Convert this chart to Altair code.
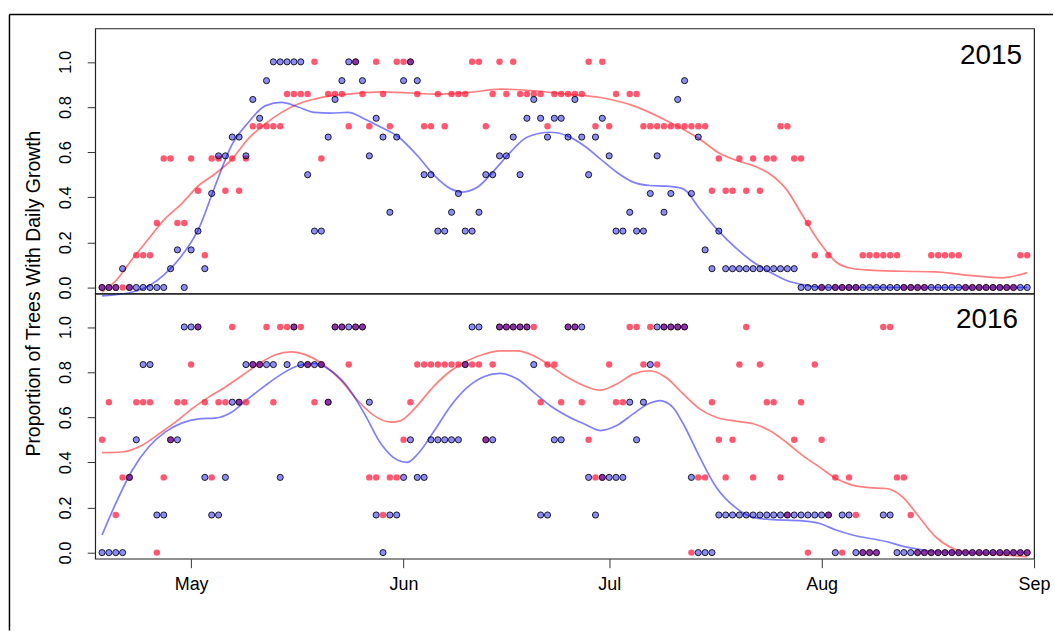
import altair as alt
import pandas as pd

FONT = "Liberation Sans"

# Days are counted from 1 May; the first observation is 18 April (day -13),
# the last one 31 August (day 122).
FIRST_DAY = -13
MONTH_TICKS = [0, 31, 61, 92, 123]
MONTH_NAMES = ["May", "Jun", "Jul", "Aug", "Sep"]

# Number of trees monitored in each group and year
N_TREES = {2015: {"red": 7, "blue": 12}, 2016: {"red": 6, "blue": 6}}

# Daily number of trees with growth, 18 Apr .. 31 Aug (None = no record)
red_2015 = [
    0, 0, 0, 0, 0, 1, 1, 1, 2, 4,
    4, 2, 2, 4, 3, 1, 4, 4, 3, 4,
    3, 4, 5, 5, 5, 5, 5, 6, 6, 6,
    6, 7, 4, 6, 6, 6, 5, 7, 6, 5,
    7, 6, 5, 7, 7, 7, 6, 5, 5, 6,
    5, 6, 6, 6, 7, 7, 5, 6, 7, 6,
    7, 6, 6, 6, 6, 5, 6, 6, 6, 6,
    6, 7, 5, 7, 5, 6, None, 6, 6, 5,
    5, 5, 5, 5, 5, 5, 5, 5, 5, 3,
    4, 3, 3, 4, 3, 4, 3, 4, 4, 5,
    5, 4, 4, 2, 1, 0, 1, 0, 0, 0,
    0, 1, 1, 1, 1, 1, 1, 0, 0, 0,
    0, 1, 1, 1, 1, 1, 0, 0, 0, 0,
    0, 0, 0, 0, 1, 1,
]
blue_2015 = [
    0, 0, 0, 1, 0, 0, 0, 0, 0, 0,
    1, 2, 0, 2, 3, 1, 5, 7, 7, 8,
    8, 7, 10, 9, 11, 12, 12, 12, 12, 12,
    6, 3, 3, 8, 10, 11, 12, 12, 11, 7,
    9, 8, 4, 8, 11, 12, 11, 6, 6, 3,
    3, 4, 5, 3, 3, 4, 6, 6, 7, 7,
    8, 6, 9, 10, 9, 8, 9, 9, 8, 10,
    8, 6, 8, 9, 7, 3, 3, 4, 3, 3,
    5, 7, 4, 5, 10, 11, 5, 8, 2, 1,
    3, 1, 1, 1, 1, 1, 1, 1, 1, 1,
    1, 1, 0, 0, 0, 0, 0, 0, 0, 0,
    0, 0, 0, 0, 0, 0, 0, 0, 0, 0,
    0, 0, 0, 0, 0, 0, 0, 0, 0, 0,
    0, 0, 0, 0, 0, 0,
]
red_2016 = [
    3, 4, 1, 2, 2, 4, 4, 4, 0, 2,
    3, 4, 4, 5, 6, 4, 2, 4, 4, 6,
    4, 4, 5, 5, 6, 4, 6, 6, 6, 6,
    5, 4, 5, 4, 6, 6, 5, 6, 6, 2,
    2, 1, 2, 2, 3, 4, 5, 5, 5, 5,
    5, 5, 5, 5, 5, 5, 3, 5, 6, 6,
    6, 6, 6, 6, 4, 5, 5, 4, 6, 6,
    4, 3, 2, 2, 5, 4, 4, 6, 6, 5,
    6, 5, 6, 6, 6, 6, 0, 2, 2, 4,
    3, 2, 3, 5, 6, 2, 5, 4, 4, 2,
    1, 3, 4, 0, 5, 3, 1, 2, 0, 2,
    1, 0, 0, 0, 6, 6, 2, 2, 1, 0,
    0, 0, 0, 0, 0, 0, 0, 0, 0, 0,
    0, 0, 0, 0, 0, 0,
]
blue_2016 = [
    0, 0, 0, 0, 2, 3, 5, 5, 1, 1,
    3, 3, 6, 6, 6, 2, 1, 1, 2, 4,
    4, 5, 5, 5, 5, 5, 2, 5, 6, 5,
    5, 5, 5, 4, 6, 6, 6, 6, 6, 4,
    1, 0, 1, 1, 2, 3, 2, 2, 3, 3,
    3, 3, 3, 5, 6, 6, 3, 3, 6, 6,
    6, 6, 6, 5, 1, 1, 3, 3, 6, 6,
    6, 2, 1, 2, 2, 2, 2, 4, 3, 4,
    5, 6, 6, 6, 6, 6, 2, 0, 0, 0,
    1, 1, 1, 1, 1, 1, 1, 1, 1, 1,
    1, 1, 1, 1, 1, 1, 1, 0, 1, 1,
    0, 0, 0, 0, 1, 1, 0, 0, 0, 0,
    0, 0, 0, 0, 0, 0, 0, 0, 0, 0,
    0, 0, 0, 0, 0, 0,
]

# Smoothed trends: (day, proportion) knots
red_trend_2015_day = [-13, -11, -8.6, -6.2, -3.8, -1.4, 1.1, 3.5, 5.9, 8.3,
                      10.8, 13.2, 15.6, 18, 20.4, 22.9, 27.7, 32.1, 35.5, 40.4,
                      45.2, 50, 54.8, 59.7, 64.5, 69.4, 74.2, 77.1, 79.6, 82,
                      84.4, 86.8, 89.2, 91.7, 94.1, 96.5, 98.9, 103.8, 108.6, 113.5,
                      118.3, 122]
red_trend_2015 = [-0.02, 0.03, 0.125, 0.216, 0.305, 0.371, 0.452, 0.504, 0.567, 0.658,
                  0.725, 0.776, 0.813, 0.835, 0.85, 0.857, 0.867, 0.862, 0.857, 0.864,
                  0.879, 0.872, 0.857, 0.842, 0.806, 0.739, 0.658, 0.595, 0.563, 0.54,
                  0.504, 0.437, 0.32, 0.2, 0.113, 0.084, 0.077, 0.072, 0.069, 0.054,
                  0.043, 0.066]
blue_trend_2015_day = [-13, -8.5, -6, -4, -1.4, 1.1, 3.5, 5.9, 8.3, 10.8,
                       13.2, 15.6, 18, 20.4, 22.9, 25.3, 27.7, 30.3, 33, 35.5,
                       37.9, 39.6, 41.8, 44.2, 46.6, 49, 52.4, 54.8, 57.3, 59.7,
                       62.1, 64.5, 66.9, 69.4, 71.8, 74.2, 76.8, 79.6, 82, 84.4,
                       86.8, 89.7, 92, 100, 110, 122]
blue_trend_2015 = [-0.037, -0.02, 0.01, 0.055, 0.14, 0.26, 0.45, 0.63, 0.73, 0.805,
                   0.82, 0.80, 0.776, 0.773, 0.776, 0.747, 0.71, 0.666, 0.585, 0.496,
                   0.437, 0.423, 0.445, 0.518, 0.6, 0.666, 0.688, 0.673, 0.629, 0.57,
                   0.511, 0.467, 0.452, 0.449, 0.437, 0.349, 0.255, 0.172, 0.113, 0.069,
                   0.032, 0.01, 0.0, 0.0, 0.0, 0.0]
red_trend_2016_day = [-13, -10.1, -7.2, -4.7, -2.3, 0.1, 2.5, 4.9, 7.4, 9.8,
                      12.2, 14.6, 17.1, 19.5, 21.9, 24.3, 26.7, 29.2, 30.6, 32.1,
                      33.1, 35.5, 37.9, 40.3, 42.7, 45.1, 47.6, 50, 52.4, 54.8,
                      57.3, 59.7, 62.1, 64.5, 66.9, 69.4, 71.8, 74.2, 76.6, 79.6,
                      82, 84.4, 86.8, 89.2, 91.7, 94.1, 96.5, 98.9, 101.4, 103.8,
                      106.2, 108.6, 111.1, 113.5, 118.3, 122]
red_trend_2016 = [0.443, 0.446, 0.475, 0.526, 0.578, 0.637, 0.688, 0.732, 0.784, 0.835,
                  0.876, 0.89, 0.872, 0.828, 0.762, 0.674, 0.607, 0.578, 0.585, 0.622,
                  0.655, 0.74, 0.806, 0.85, 0.879, 0.894, 0.894, 0.872, 0.828, 0.779,
                  0.74, 0.72, 0.747, 0.791, 0.806, 0.774, 0.703, 0.637, 0.6, 0.582,
                  0.571, 0.541, 0.49, 0.431, 0.379, 0.328, 0.299, 0.288, 0.284, 0.247,
                  0.159, 0.071, 0.019, 0.0, -0.01, -0.018]
blue_trend_2016_day = [-13, -11, -8.6, -6.2, -3.8, -1.4, 1.1, 3.5, 5.9, 8.3,
                       10.8, 13.2, 15.6, 18, 20.4, 22.9, 25.3, 27.7, 30.1, 31.5,
                       33.1, 35.5, 37.9, 40.3, 42.7, 45.1, 47.6, 50, 52.4, 54.8,
                       57.3, 59.7, 62.1, 64.5, 66.9, 68.4, 70.3, 71.8, 74.2, 76.6,
                       79.6, 82, 84.4, 89.2, 91.7, 94.1, 96.5, 101.4, 103.8, 106.2,
                       108.6, 112, 122]
blue_trend_2016 = [0.078, 0.218, 0.365, 0.468, 0.534, 0.574, 0.593, 0.596, 0.622, 0.681,
                   0.74, 0.791, 0.828, 0.838, 0.806, 0.732, 0.615, 0.482, 0.41, 0.40,
                   0.438, 0.541, 0.651, 0.732, 0.779, 0.794, 0.769, 0.71, 0.651, 0.607,
                   0.571, 0.541, 0.563, 0.615, 0.662, 0.674, 0.644, 0.571, 0.424, 0.291,
                   0.196, 0.156, 0.147, 0.141, 0.129, 0.1, 0.078, 0.049, 0.029, 0.015,
                   0.004, 0.0, 0.0]

Y_TITLE = "Proportion of Trees With Daily Growth"
PANEL_W, PANEL_H = 942, 266


def daily_frame(counts, n_trees):
    rows = [{"day": FIRST_DAY + i, "value": c / n_trees}
            for i, c in enumerate(counts) if c is not None]
    return pd.DataFrame(rows)


def trend_frame(days, values):
    return pd.DataFrame({"day": days, "value": values})


x_scale = alt.Scale(domain=[-14, 123], nice=False, zero=False)
y_scale = alt.Scale(domain=[-0.027, 1.148], nice=False, zero=False)

month_expr = "{}[indexof({}, datum.value)]".format(
    "[" + ",".join("'%s'" % m for m in MONTH_NAMES) + "]",
    "[" + ",".join(str(t) for t in MONTH_TICKS) + "]",
)
x_axis = alt.Axis(values=MONTH_TICKS, labelExpr=month_expr, title=None,
                  domain=False, grid=False, tickSize=9, tickColor="#333333",
                  labelFontSize=18, labelFont=FONT, labelColor="black",
                  labelPadding=8, labelFlush=False, labelOverlap=False)
y_axis = alt.Axis(values=[0, 0.2, 0.4, 0.6, 0.8, 1.0], format=".1f", title=None,
                  domain=False, grid=False, tickSize=8, tickColor="#333333",
                  labelAngle=270, labelAlign="center", labelBaseline="alphabetic",
                  labelPadding=17, labelFontSize=16.5, labelFont=FONT,
                  labelColor="black", labelFlush=False, labelOverlap=False)


def panel(year, red, blue, red_trend, blue_trend, show_x, label_x, label_y):
    x = alt.X("day:Q", scale=x_scale, axis=x_axis if show_x else None)
    y = alt.Y("value:Q", scale=y_scale, axis=y_axis)
    red_line = alt.Chart(red_trend).mark_line(
        color="#FF0000", opacity=0.5, strokeWidth=1.7, interpolate="monotone"
    ).encode(x=x, y=y)
    blue_line = alt.Chart(blue_trend).mark_line(
        color="#0000FF", opacity=0.5, strokeWidth=1.7, interpolate="monotone"
    ).encode(x=x, y=y)
    red_pts = alt.Chart(red).mark_circle(
        color="#FF2040", opacity=0.75, size=42
    ).encode(x=x, y=y)
    blue_pts = alt.Chart(blue).mark_point(
        shape="circle", filled=True, fill="#0000FF", fillOpacity=0.45,
        stroke="black", strokeWidth=1, strokeOpacity=0.85, opacity=1, size=38
    ).encode(x=x, y=y)
    year_label = alt.Chart(pd.DataFrame({"label": [str(year)]})).mark_text(
        align="right", baseline="alphabetic", fontSize=28, font=FONT, color="black"
    ).encode(x=alt.value(label_x), y=alt.value(label_y), text="label:N")
    return [red_line, blue_line, red_pts, blue_pts, year_label]


one_row = pd.DataFrame({"k": [0]})
frame_top = alt.Chart(one_row).mark_rule(color="black", strokeWidth=1.5).encode(
    x=alt.value(-86), x2=alt.value(961), y=alt.value(-14))
frame_left = alt.Chart(one_row).mark_rule(color="black", strokeWidth=1.5).encode(
    x=alt.value(-86), y=alt.value(-14), y2=alt.value(604))
y_title = alt.Chart(pd.DataFrame({"t": [Y_TITLE]})).mark_text(
    angle=270, align="center", baseline="alphabetic", fontSize=19.5, font=FONT,
    color="black"
).encode(x=alt.value(-55), y=alt.value(PANEL_H), text="t:N")

top_layers = panel(
    2015,
    daily_frame(red_2015, N_TREES[2015]["red"]),
    daily_frame(blue_2015, N_TREES[2015]["blue"]),
    trend_frame(red_trend_2015_day, red_trend_2015),
    trend_frame(blue_trend_2015_day, blue_trend_2015),
    show_x=False, label_x=930, label_y=36,
)
bottom_layers = panel(
    2016,
    daily_frame(red_2016, N_TREES[2016]["red"]),
    daily_frame(blue_2016, N_TREES[2016]["blue"]),
    trend_frame(red_trend_2016_day, red_trend_2016),
    trend_frame(blue_trend_2016_day, blue_trend_2016),
    show_x=True, label_x=926, label_y=35,
)

top = alt.layer(*top_layers, frame_top, frame_left, y_title).properties(
    width=PANEL_W, height=PANEL_H)
bottom = alt.layer(*bottom_layers).properties(width=PANEL_W, height=PANEL_H)

chart = alt.vconcat(top, bottom, spacing=0, bounds="flush").properties(
    padding={"left": 7.5, "top": 11.5, "right": 0, "bottom": 0},
    background="white",
).configure_view(stroke="#222222", strokeWidth=1.2)

chart.save("out.html", embed_options={"renderer": "svg", "actions": False})
